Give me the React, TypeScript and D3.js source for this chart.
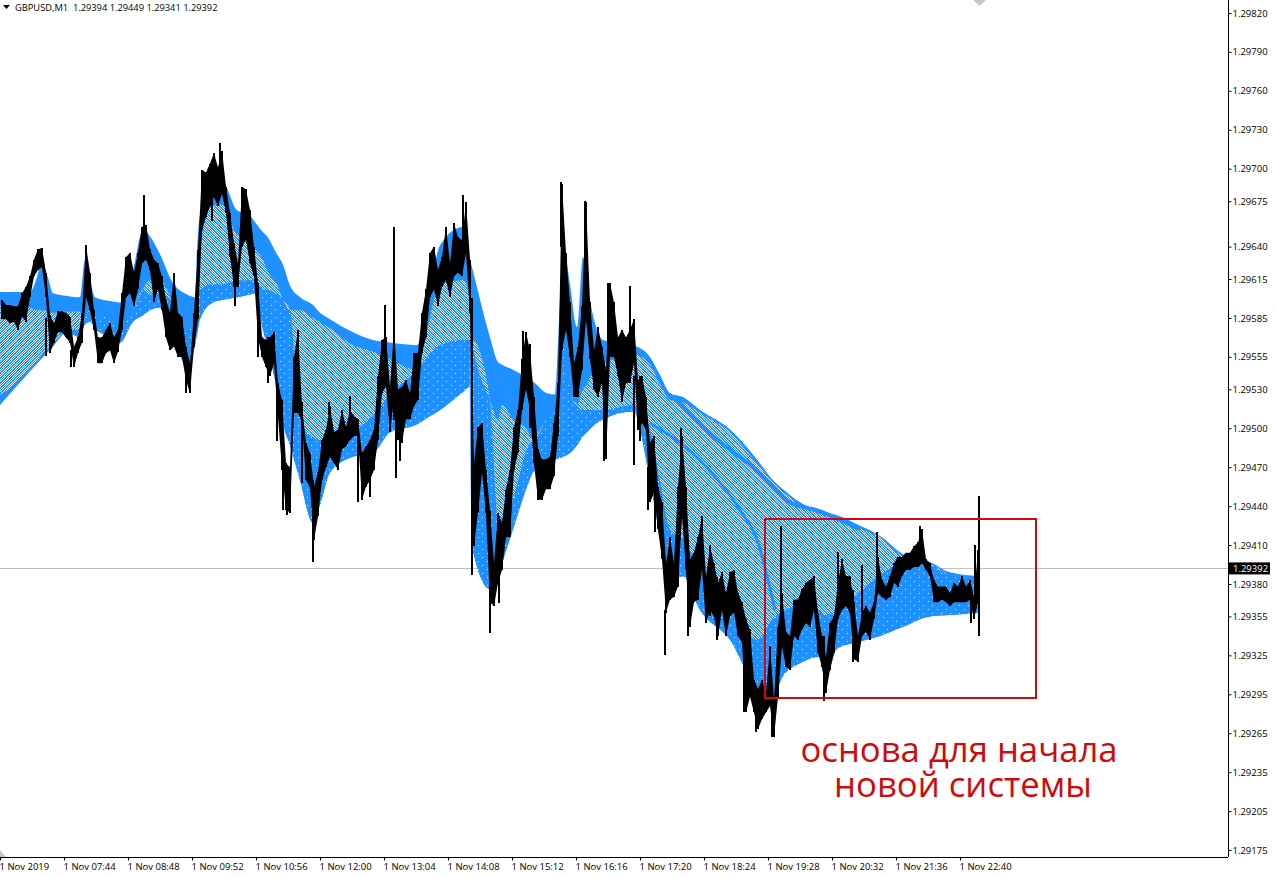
import * as d3 from 'd3';
import { useEffect, useRef } from 'react';

// all prices are points above 1.29000, time is minutes after 06:40
const base = 1.29;
const barStep = 4;
const barHigh = [599,595,595,594,594,604,609,617,630,638,639,620,587,581,590,590,589,586,563,570,589,641,620,591,570,570,576,581,570,576,604,632,635,620,635,655,657,638,630,627,617,599,589,620,589,586,563,550,589,637,
  699,697,704,712,701,714,686,666,643,627,686,684,668,640,612,570,568,570,574,535,522,473,470,555,576,517,489,481,455,466,491,499,517,497,499,514,501,514,509,507,481,486,491,499,540,568,570,532,576,530,
  532,537,527,558,558,589,607,635,640,622,632,655,627,658,647,645,674,630,473,501,504,468,437,396,435,427,453,468,501,514,553,574,560,524,484,476,476,478,504,535,688,635,597,550,563,594,674,597,560,578,
  563,545,612,597,570,576,570,576,584,537,540,524,489,494,455,443,396,416,396,455,494,455,399,404,416,432,386,409,396,381,389,373,389,391,373,366,353,345,306,299,306,296,332,291,347,373,343,340,368,368,
  376,381,383,386,358,340,324,350,355,381,399,386,386,366,340,358,363,358,366,401,383,378,386,396,401,401,404,404,409,412,422,399,396,383,378,378,378,373,381,378,386,378,383,370,406];
const barLow = [584,584,581,582,576,586,582,601,617,622,624,601,558,566,574,574,570,566,547,558,566,601,591,576,550,550,558,560,550,559,576,601,604,594,607,627,630,622,597,607,591,570,560,563,555,555,537,527,563,584,
  653,663,671,678,671,681,666,632,609,609,640,645,627,617,570,555,547,540,550,509,468,437,435,512,512,504,460,455,414,432,460,470,478,473,468,484,486,491,494,494,445,455,460,468,491,527,532,497,522,491,
  489,507,507,517,522,558,570,601,607,594,609,614,601,617,620,617,635,589,409,435,466,435,366,363,381,391,416,416,468,481,514,530,514,473,445,445,453,453,463,494,560,576,555,524,524,545,584,553,530,524,
  535,476,555,555,540,520,535,535,550,499,504,499,443,450,422,399,358,368,370,378,432,391,347,366,368,391,350,360,355,340,360,340,355,358,340,335,281,293,281,268,276,281,286,262,293,332,316,314,340,337,
  345,350,347,360,327,316,296,314,327,353,360,363,358,322,320,340,343,337,353,373,370,368,370,381,378,386,391,391,393,393,396,391,386,366,366,368,366,363,366,366,366,366,368,353,366];

const spikeMinutes = [46,71,144,186,212,220,235,258,268,277,283,287,302,313,329,350,358,370,385,394,396,400,463,472,490,499,523,530,561,585,604,608,630,634,640,648,655,665,681,688,710,717,744,756,772,781,824,838,853,862,877,920,971,975,979];
const spikeHigh = [585,560,680,560,700,720,620,600,570,530,480,470,520,460,520,525,495,490,595,655,530,530,680,600,420,400,575,565,690,675,540,612,610,540,540,470,460,360,500,400,410,385,350,300,290,425,340,405,375,395,420,425,375,410,448];
const spikeLow = [556,547,640,527,660,700,594,555,535,490,437,433,458,397,510,500,443,447,550,506,462,475,630,387,342,365,520,500,640,620,475,555,575,472,490,437,420,325,440,340,355,337,281,266,262,330,290,360,320,355,380,395,350,370,340];

const ribbonMinutes = [0,15,30,36,42,48,53,67,80,85,90,95,110,120,133,143,150,160,172,187,195,197,200,213,223,237,250,255,263,267,277,283,290,300,313,320,330,353,373,390,417,425,440,463,470,472,490,498,502,513,527,533,547,555,560,563,570,577,583,587,595,603,633,650,660,670,683,700,730,757,773,783,800,820,825,837,857,880,903,930,950,979];
const ribbonTop = [605,605,605,614,628,616,604,602,601,630,614,601,598,597,622,653,648,634,613,603,601,638,664,688,689,668,664,659,651,648,634,626,610,601,595,589,584,574,568,566,564,584,641,655,630,624,570,551,549,545,539,536,527,526,599,643,611,578,632,612,581,568,564,555,541,527,524,514,499,476,460,453,443,436,435,433,426,417,403,397,389,386];
const hatchTop = [594,594,593,591,591,590,589,590,590,585,591,590,584,580,591,607,614,614,599,576,584,591,638,672,672,649,645,638,630,622,611,599,591,591,585,582,577,564,559,553,545,568,611,614,599,568,522,507,518,507,499,491,507,514,514,568,530,518,530,534,545,549,557,549,534,522,520,512,497,473,458,451,441,434,433,431,424,416,401,395,387,384];
const hatchBottom = [526,534,547,551,557,561,565,576,576,585,591,590,584,580,591,607,603,603,599,576,584,591,607,611,611,614,614,614,607,607,603,599,591,507,493,491,491,497,510,526,545,553,564,568,568,568,522,430,430,445,484,491,507,514,514,568,530,518,514,514,514,514,518,499,460,422,414,391,366,337,353,359,363,360,356,360,372,387,396,395,387,384];
const ribbonBottom = [518,531,544,549,554,559,563,574,570,580,582,577,570,566,582,587,591,593,576,547,564,572,584,597,599,601,603,604,576,564,530,503,487,460,427,441,466,478,481,497,503,507,514,528,532,409,376,386,396,422,455,466,472,476,477,478,481,487,494,497,503,507,513,460,416,383,386,360,337,299,293,309,319,324,306,330,335,340,347,355,356,358];

const ridgeAMinutes = [677,713,753,790,820,860];
const ridgeAValues = [522,494,470,443,436,422];
const ridgeBMinutes = [650,703,740,757,775];
const ridgeBValues = [504,473,437,414,360];

const priceTicks = [820,790,760,730,700,675,640,615,585,555,530,500,470,440,410,380,355,325,295,265,235,205,175];
const lastPrice = 392;
const timeLabels = ['1 Nov 2019','1 Nov 07:44','1 Nov 08:48','1 Nov 09:52','1 Nov 10:56','1 Nov 12:00','1 Nov 13:04','1 Nov 14:08','1 Nov 15:12','1 Nov 16:16','1 Nov 17:20','1 Nov 18:24','1 Nov 19:28','1 Nov 20:32','1 Nov 21:36','1 Nov 22:40'];
const tickEvery = 64;
const header = 'GBPUSD,M1  1.29394 1.29449 1.29341 1.29392';
const boxStart = [765, 430];
const boxEnd = [1036, 292];
const noteLines = ['основа для начала', 'новой системы'];

const W = 1275;
const H = 877;
const BLUE = '#1e90ff';
const RED = '#d00a0a';
const FONT = '"Open Sans", "Noto Sans", sans-serif';

export default function App() {
  const ref = useRef<SVGSVGElement | null>(null);
  useEffect(() => {
    if (!ref.current) return;
    const svg = d3.select(ref.current);
    svg.selectAll('*').remove();

    const x = d3.scaleLinear().domain([0, 1228]).range([0, 1228]);
    const y = d3.scaleLinear().domain([1.29175, 1.2982]).range([850, 13]);
    const py = (v: number) => y(base + v / 100000);

    const defs = svg.append('defs');
    const addHatch = (id: string, size: number[], cells: number[][]) => {
      const p = defs.append('pattern').attr('id', id).attr('patternUnits', 'userSpaceOnUse').attr('width', size[0]).attr('height', size[1]);
      p.append('rect').attr('width', size[0]).attr('height', size[1]).attr('fill', BLUE);
      cells.forEach(([a, b]) => p.append('rect').attr('x', a).attr('y', b).attr('width', 1).attr('height', 1).attr('fill', '#fff'));
    };
    addHatch('hatch-down', [5, 5], [[0, 0], [1, 1], [2, 2], [3, 3], [4, 4], [2, 0], [3, 1], [4, 2], [0, 3], [1, 4]]);
    addHatch('hatch-up', [5, 5], [[4, 0], [3, 1], [2, 2], [1, 3], [0, 4], [1, 0], [0, 1], [4, 2], [3, 3], [2, 4]]);
    addHatch('speck', [9, 8], [[1, 1], [5, 5]]);

    // current price line sits behind everything
    svg.append('line').attr('x1', 0).attr('x2', 1228).attr('y1', py(lastPrice)).attr('y2', py(lastPrice))
      .attr('stroke', '#c0c0c0').attr('shape-rendering', 'crispEdges');

    const idx = d3.range(ribbonMinutes.length);
    const band = (top: number[], bottom: number[]) =>
      d3.area<number>().x((i) => x(ribbonMinutes[i])).y0((i) => py(bottom[i])).y1((i) => py(top[i])).curve(d3.curveMonotoneX);

    svg.append('path').attr('d', band(ribbonTop, ribbonBottom)(idx) || '').attr('fill', BLUE);
    const split = ribbonMinutes.indexOf(80);
    svg.append('path').attr('d', band(hatchBottom, ribbonBottom)(idx.slice(split)) || '').attr('fill', 'url(#speck)');
    svg.append('path').attr('d', band(hatchTop, hatchBottom)(idx.slice(0, split + 1)) || '').attr('fill', 'url(#hatch-up)');
    svg.append('path').attr('d', band(hatchTop, hatchBottom)(idx.slice(split)) || '').attr('fill', 'url(#hatch-down)');

    const ridge = d3.line<[number, number]>().x((d) => x(d[0])).y((d) => py(d[1])).curve(d3.curveMonotoneX);
    svg.append('path').attr('d', ridge(d3.zip(ridgeAMinutes, ridgeAValues) as [number, number][]) || '')
      .attr('fill', 'none').attr('stroke', BLUE).attr('stroke-width', 4);
    svg.append('path').attr('d', ridge(d3.zip(ridgeBMinutes, ridgeBValues) as [number, number][]) || '')
      .attr('fill', 'none').attr('stroke', BLUE).attr('stroke-width', 3);

    // price range: joined outline of the read highs and lows, then the single bars on top
    const priceBand = d3.area<number>()
      .x((_, i) => x(i * barStep + barStep / 2))
      .y0((_, i) => py(barLow[i]))
      .y1((d) => py(d));
    svg.append('path').attr('d', priceBand(barHigh) || '').attr('fill', '#000');

    svg.append('g').attr('stroke', '#000').attr('stroke-width', 2).attr('shape-rendering', 'crispEdges')
      .selectAll('line').data(barHigh).join('line')
      .attr('x1', (_, i) => x(i * barStep + barStep / 2))
      .attr('x2', (_, i) => x(i * barStep + barStep / 2))
      .attr('y1', (d) => py(d))
      .attr('y2', (_, i) => py(barLow[i]));

    svg.append('g').attr('stroke', '#000').attr('stroke-width', 1.5).attr('shape-rendering', 'crispEdges')
      .selectAll('line').data(spikeMinutes).join('line')
      .attr('x1', (d) => x(d)).attr('x2', (d) => x(d))
      .attr('y1', (_, i) => py(spikeHigh[i]))
      .attr('y2', (_, i) => py(spikeLow[i]));

    // annotation box and note
    svg.append('rect')
      .attr('x', x(boxStart[0])).attr('y', py(boxStart[1]))
      .attr('width', x(boxEnd[0]) - x(boxStart[0])).attr('height', py(boxEnd[1]) - py(boxStart[1]))
      .attr('fill', 'none').attr('stroke', RED).attr('stroke-width', 2).attr('shape-rendering', 'crispEdges');
    svg.append('g').attr('fill', RED).attr('font-family', FONT).attr('font-size', 34.7).attr('text-anchor', 'middle')
      .selectAll('text').data(noteLines).join('text')
      .attr('x', (_, i) => (i === 0 ? 959 : 963))
      .attr('y', (_, i) => (i === 0 ? 762 : 797))
      .text((d) => d);

    // axes
    const priceAxis = d3.axisRight(y).tickValues(priceTicks.map((v) => base + v / 100000))
      .tickSize(3).tickPadding(1).tickFormat((d) => d3.format('.5f')(d as number));
    const gy = svg.append('g').attr('transform', 'translate(1228.5,0)').call(priceAxis);
    const timeAxis = d3.axisBottom(x).tickValues(timeLabels.map((_, i) => i * tickEvery))
      .tickSize(3).tickPadding(3).tickFormat((_, i) => timeLabels[i]);
    const gx = svg.append('g').attr('transform', 'translate(0,857.5)').call(timeAxis);
    gy.select('.domain').remove();
    gx.select('.domain').remove();
    [gx, gy].forEach((g) => g.selectAll('text').attr('font-family', FONT).attr('font-size', 9.5).attr('fill', '#000'));
    gx.selectAll('text').attr('text-anchor', 'start').attr('x', -1);
    svg.append('line').attr('x1', 1228.5).attr('x2', 1228.5).attr('y1', 0).attr('y2', 857).attr('stroke', '#000');
    svg.append('line').attr('x1', 0).attr('x2', 1228).attr('y1', 857.5).attr('y2', 857.5).attr('stroke', '#000');

    // last price flag
    svg.append('rect').attr('x', 1229).attr('y', py(lastPrice) - 6).attr('width', 41).attr('height', 12).attr('fill', '#000');
    svg.append('text').attr('x', 1233).attr('y', py(lastPrice) + 3.5).attr('fill', '#fff')
      .attr('font-family', FONT).attr('font-size', 9.5).text(d3.format('.5f')(base + lastPrice / 100000));

    // header and shift markers
    svg.append('path').attr('d', 'M3,5H10L6.5,9Z').attr('fill', '#000');
    svg.append('text').attr('x', 15).attr('y', 10.5).attr('font-family', FONT).attr('font-size', 9.3)
      .attr('xml:space', 'preserve').style('white-space', 'pre').text(header);
    const lastX = x(d3.max(spikeMinutes) || 0);
    svg.append('path').attr('d', `M${lastX - 6},0H${lastX + 7}L${lastX + 0.5},6Z`).attr('fill', '#c8c8c8');
    svg.append('path').attr('d', 'M0,850L6,857H0Z').attr('fill', '#c8c8c8');
  }, []);

  return <svg ref={ref} width={W} height={H} viewBox={`0 0 ${W} ${H}`} style={{ position: 'fixed', left: 0, top: 0, background: '#fff' }} />;
}
